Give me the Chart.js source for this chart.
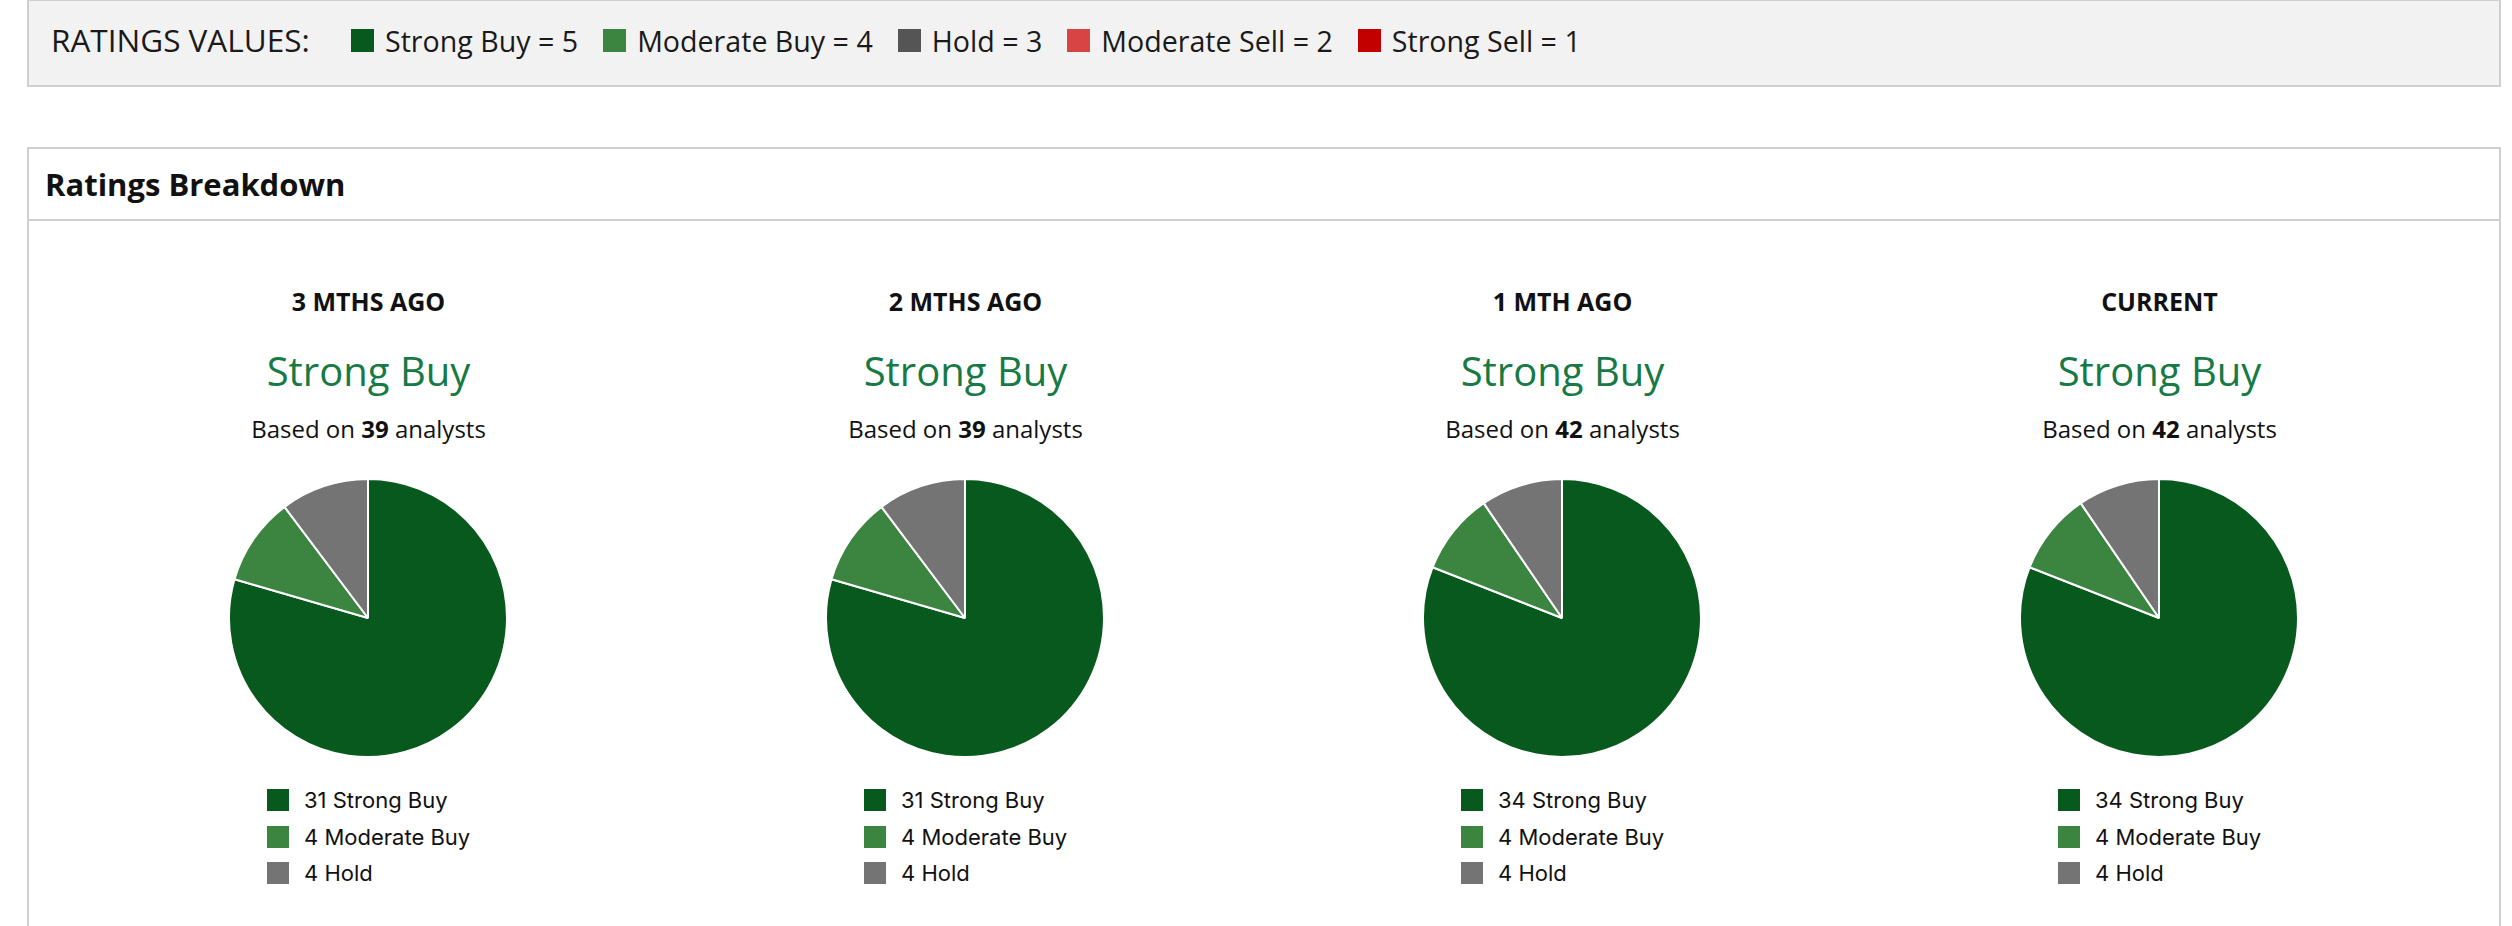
<!DOCTYPE html>
<html>
<head>
<meta charset="utf-8">
<script src="https://cdn.jsdelivr.net/npm/chart.js@4.4.1/dist/chart.umd.min.js"></script>
<style>
  html, body { margin: 0; padding: 0; background: #fff; }
  body { width: 2512px; height: 926px; position: relative; overflow: hidden; font-family: "Open Sans", "Noto Sans", sans-serif; color: #1a1a1a; }
  #values { position: absolute; left: 27px; top: -1px; width: 2470px; height: 84px; border: 2px solid #cfcfcf; background: #f2f2f2; }
  #values .lbl { position: absolute; left: 22px; top: 0; line-height: 78px; font-size: 31.5px; }
  #values .items { position: absolute; left: 322px; top: 0; height: 78px; display: flex; align-items: center; font-size: 28.6px; }
  #values .item { display: flex; align-items: center; margin-right: 25px; white-space: pre; }
  #values .sw { width: 23px; height: 23px; margin-right: 11px; }
  #panel { position: absolute; left: 27px; top: 147px; width: 2470px; height: 900px; border: 2px solid #cfcfcf; }
  #panel .head { position: absolute; left: 0; top: 0; width: 100%; height: 70px; border-bottom: 2px solid #cfcfcf; }
  #panel .head span { position: absolute; left: 16px; top: 0; line-height: 70px; font-size: 31px; font-weight: 700; color: #111; }
  .col { position: absolute; top: 0; width: 597px; height: 780px; text-align: center; }
  .period { position: absolute; left: 0; width: 100%; top: 134px; line-height: 36px; font-size: 25px; font-weight: 700; color: #111; }
  .cons { position: absolute; left: 0; width: 100%; top: 195px; line-height: 54px; font-size: 40px; color: #177a45; }
  .based { position: absolute; left: 0; width: 100%; top: 263px; line-height: 34px; font-size: 24px; color: #111; }
  .pie { position: absolute; left: 158px; top: 329px; width: 280px; height: 280px; }
  .legend { position: absolute; left: 197px; top: 633px; text-align: left; font-family: Inter, "Liberation Sans", sans-serif; font-size: 22px; color: #111; }
  .legend div { display: flex; align-items: center; height: 36.5px; }
  .legend i { display: inline-block; width: 22px; height: 22px; margin-right: 15px; }
</style>
</head>
<body>
<div id="values"><span class="lbl">RATINGS VALUES:</span><div class="items" id="valueItems"></div></div>
<div id="panel">
  <div class="head"><span>Ratings Breakdown</span></div>
  <div id="cols"></div>
</div>
<script>
// ratings scale
const ratingNames = ["Strong Buy", "Moderate Buy", "Hold", "Moderate Sell", "Strong Sell"];
const ratingValues = [5, 4, 3, 2, 1];
const pieColors = ["#07591d", "#3b8540", "#747474", "#d64444", "#c30000"];
const keyColors = ["#07591d", "#3b8540", "#555555", "#d64444", "#c30000"];

// periods and analyst counts per rating
const periods = ["3 MTHS AGO", "2 MTHS AGO", "1 MTH AGO", "CURRENT"];
const consensus = ["Strong Buy", "Strong Buy", "Strong Buy", "Strong Buy"];
const strongBuy = [31, 31, 34, 34];
const moderateBuy = [4, 4, 4, 4];
const hold = [4, 4, 4, 4];
const moderateSell = [0, 0, 0, 0];
const strongSell = [0, 0, 0, 0];

const counts = [strongBuy, moderateBuy, hold, moderateSell, strongSell];

// top key
const valueItems = document.getElementById("valueItems");
ratingNames.forEach((name, i) => {
  const item = document.createElement("div");
  item.className = "item";
  item.innerHTML = '<span class="sw" style="background:' + keyColors[i] + '"></span>' + name + " = " + ratingValues[i];
  valueItems.appendChild(item);
});

const cols = document.getElementById("cols");
periods.forEach((period, p) => {
  const values = counts.map((c) => c[p]);
  const total = values.reduce((a, b) => a + b, 0);
  // only ratings that have analysts get a slice and a legend row
  const idx = values.map((v, i) => i).filter((i) => values[i] > 0);

  const col = document.createElement("div");
  col.className = "col";
  col.style.left = 41 + p * 597 + "px";
  col.innerHTML =
    '<div class="period">' + period + "</div>" +
    '<div class="cons">' + consensus[p] + "</div>" +
    '<div class="based">Based on <b>' + total + "</b> analysts</div>" +
    '<div class="pie"><canvas></canvas></div>' +
    '<div class="legend">' +
    idx.map((i) => '<div><i style="background:' + pieColors[i] + '"></i>' + values[i] + " " + ratingNames[i] + "</div>").join("") +
    "</div>";
  cols.appendChild(col);

  new Chart(col.querySelector("canvas"), {
    type: "pie",
    data: {
      labels: idx.map((i) => ratingNames[i]),
      datasets: [
        {
          data: idx.map((i) => values[i]),
          backgroundColor: idx.map((i) => pieColors[i]),
          borderColor: "#ffffff",
          borderWidth: 2,
          hoverOffset: 0,
          offset: 0,
        },
      ],
    },
    options: {
      responsive: true,
      maintainAspectRatio: false,
      devicePixelRatio: 1,
      animation: false,
      layout: { padding: 0 },
      plugins: {
        legend: { display: false },
        tooltip: { enabled: false },
      },
    },
  });
});
</script>
</body>
</html>
